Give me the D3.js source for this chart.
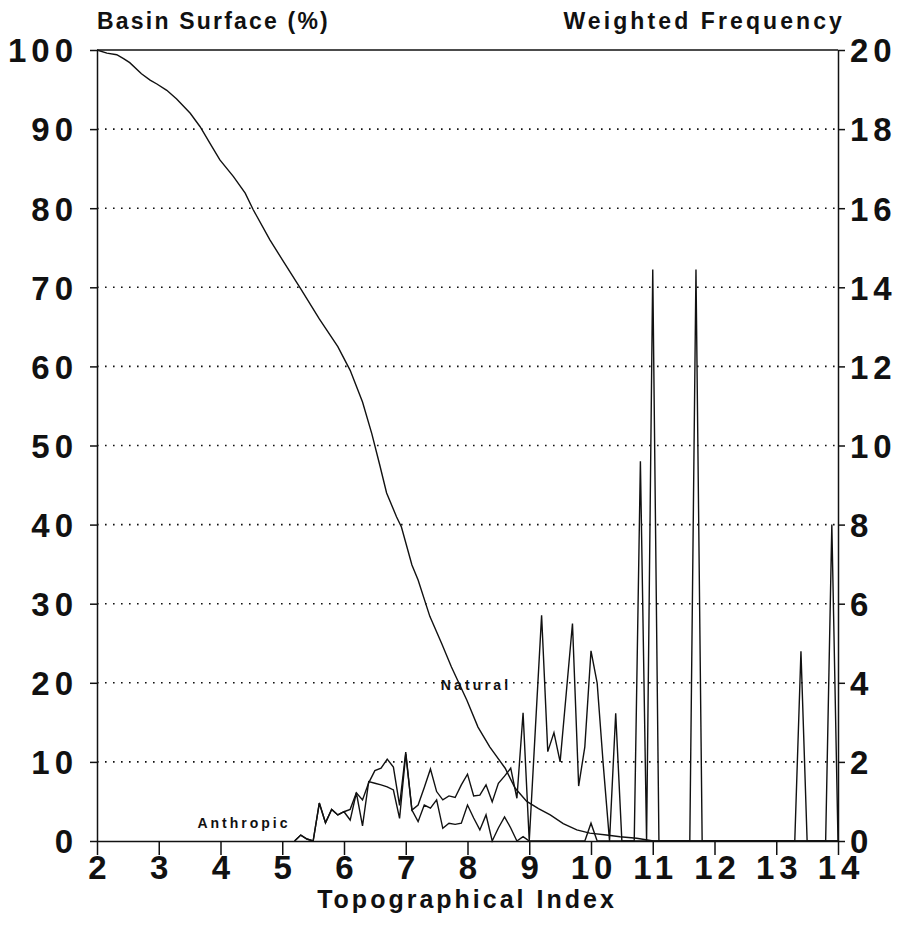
<!DOCTYPE html>
<html>
<head>
<meta charset="utf-8">
<script src="https://cdn.jsdelivr.net/npm/d3@7"></script>
<style>
  html, body { margin: 0; padding: 0; background: #fff; }
  svg { display: block; }
  text { font-family: "Liberation Sans", Arial, Helvetica, sans-serif; fill: #111; }
</style>
</head>
<body>
<svg id="chart" width="915" height="944"></svg>
<script>
// ---------- data ----------
const xTicks = [2, 3, 4, 5, 6, 7, 8, 9, 10, 11, 12, 13, 14];
const leftTicks = [0, 10, 20, 30, 40, 50, 60, 70, 80, 90, 100];
const rightTicks = [0, 2, 4, 6, 8, 10, 12, 14, 16, 18, 20];

// Basin surface cumulative curve (%), left axis
const surfaceIndex = [2.0, 2.16, 2.32, 2.43, 2.53, 2.72, 2.86, 2.97, 3.13, 3.29, 3.51, 3.67, 3.83, 3.99,
  4.21, 4.40, 4.53, 4.80, 5.0, 5.3, 5.6, 5.9, 6.1, 6.3, 6.45, 6.58, 6.69, 6.85, 6.93, 7.10, 7.20, 7.39,
  7.58, 7.74, 7.99, 8.17, 8.36, 8.61, 8.77, 8.96, 9.15, 9.34, 9.55, 9.77, 9.98, 10.25, 10.47, 10.74, 11.01, 14.0];
const surfacePct = [100, 99.6, 99.4, 98.9, 98.4, 97.0, 96.2, 95.7, 94.9, 93.8, 92.0, 90.3, 88.2, 86.1,
  84.0, 81.9, 79.8, 76.0, 73.5, 69.8, 66.0, 62.5, 59.5, 55.5, 51.5, 47.5, 44.0, 41.0, 39.7, 34.9, 33.0, 28.4,
  25.0, 22.0, 17.8, 14.4, 11.9, 9.2, 6.7, 5.0, 4.1, 3.3, 2.2, 1.4, 1.0, 0.76, 0.54, 0.34, 0, 0];

// Weighted frequency, right axis, topographical index 5.2 .. 14.0 step 0.1
const freqIndex = d3.range(52, 141).map(d => d / 10);
const natural = [
  0, 0.15, 0.05, 0, 0.96, 0.46, 0.80, 0.66, 0.74,
  0.80, 1.22, 1.04, 1.47, 1.78, 1.84, 2.07, 1.87, 0.90, 2.25,
  0.78, 0.91, 1.35, 1.82, 1.25, 1.04, 1.14, 1.10, 1.42, 1.69,
  1.14, 1.16, 1.42, 0.99, 1.46, 1.64, 1.84, 1.08, 3.24, 0,
  2.86, 5.71, 2.26, 2.74, 2.00, 3.75, 5.50, 1.39, 2.38, 4.81,
  3.99, 1.90, 0, 3.23, 0, 0, 0, 9.60, 0, 14.45,
  0, 0, 0, 0, 0, 0, 14.45, 0, 0, 0,
  0, 0, 0, 0, 0, 0, 0, 0, 0, 0,
  0, 0, 0, 4.80, 0, 0, 0, 0, 8.00, 0];
const anthropic = [
  0, 0.15, 0.05, 0, 0.96, 0.46, 0.80, 0.66, 0.74,
  0.53, 1.22, 0.38, 1.50, 1.46, 1.42, 1.37, 1.29, 0.57, 2.20,
  0.78, 0.49, 0.91, 0.83, 1.04, 0.32, 0.45, 0.42, 0.45, 0.91,
  0.58, 0.28, 0.66, 0, 0.33, 0.61, 0.33, 0, 0.11, 0,
  0, 0, 0, 0, 0, 0, 0, 0, 0, 0.45,
  0, 0, 0, 0, 0, 0, 0, 0, 0, 0,
  0, 0, 0, 0, 0, 0, 0, 0, 0, 0,
  0, 0, 0, 0, 0, 0, 0, 0, 0, 0,
  0, 0, 0, 0, 0, 0, 0, 0, 0, 0];

// ---------- layout ----------
const svg = d3.select("#chart");
const L = 97, R = 838, T = 50, B = 841;
const x = d3.scaleLinear().domain([2, 14]).range([L, R]);
const yL = d3.scaleLinear().domain([0, 100]).range([B, T]);
const yR = d3.scaleLinear().domain([0, 20]).range([B, T]);
const ink = "#111";
const tickFont = 33, tickLS = 5;

// dotted gridlines
svg.append("g").selectAll("line")
  .data(leftTicks.filter(d => d > 0 && d < 100))
  .join("line")
  .attr("x1", L).attr("x2", R)
  .attr("y1", d => yL(d)).attr("y2", d => yL(d))
  .attr("stroke", ink).attr("stroke-width", 1.6)
  .attr("stroke-dasharray", "1.6,6.4");

// top frame line
svg.append("line").attr("x1", L).attr("x2", R)
  .attr("y1", yL(100)).attr("y2", yL(100))
  .attr("stroke", ink).attr("stroke-width", 1.5);

// axes
const gL = svg.append("g").attr("transform", `translate(${L},0)`)
  .call(d3.axisLeft(yL).tickValues(leftTicks).tickSize(7).tickSizeOuter(0).tickPadding(12));
const gR = svg.append("g").attr("transform", `translate(${R},0)`)
  .call(d3.axisRight(yR).tickValues(rightTicks).tickSize(7).tickSizeOuter(0).tickPadding(5));
const gB = svg.append("g").attr("transform", `translate(0,${B})`)
  .call(d3.axisBottom(x).tickValues(xTicks).tickSize(14).tickSizeOuter(0).tickPadding(0));

[gL, gR, gB].forEach(g => {
  g.selectAll(".domain").attr("stroke", ink).attr("stroke-width", 1.5);
  g.selectAll(".tick line").attr("stroke", ink).attr("stroke-width", 1.5);
  g.selectAll(".tick text")
    .style("font-family", '"Liberation Sans", Arial, sans-serif')
    .style("font-weight", "bold")
    .style("font-size", tickFont + "px")
    .style("letter-spacing", tickLS + "px")
    .attr("fill", ink);
});
gL.selectAll(".tick text").attr("dy", "0.36em");
gR.selectAll(".tick text").attr("dy", "0.36em");
gB.selectAll(".tick text").attr("y", 38).attr("dy", 0).attr("dx", tickLS / 2);

// curves
const lineS = d3.line().x((d, i) => x(surfaceIndex[i])).y(d => yL(d));
svg.append("path").datum(surfacePct)
  .attr("d", lineS).attr("fill", "none").attr("stroke", ink).attr("stroke-width", 1.4);

const lineF = d3.line().x((d, i) => x(freqIndex[i])).y(d => yR(d));
svg.append("path").datum(anthropic)
  .attr("d", lineF).attr("fill", "none").attr("stroke", ink).attr("stroke-width", 1.4)
  .attr("stroke-linejoin", "miter");
svg.append("path").datum(natural)
  .attr("d", lineF).attr("fill", "none").attr("stroke", ink).attr("stroke-width", 1.4)
  .attr("stroke-linejoin", "miter");

// titles
const title = (txt, xx, yy, anchor, size, ls) =>
  svg.append("text").text(txt).attr("x", xx).attr("y", yy)
    .attr("text-anchor", anchor)
    .style("font-size", size + "px").style("font-weight", "bold")
    .style("letter-spacing", ls + "px");

title("Basin Surface (%)", 97, 29, "start", 23, 2.2);
title("Weighted Frequency", 845, 29, "end", 23, 3.1);
title("Topographical Index", 467, 908, "middle", 25, 3);

// series labels
title("Natural", 476, 690, "middle", 14, 3.2);
title("Anthropic", 244, 828, "middle", 14, 3);
</script>
</body>
</html>
